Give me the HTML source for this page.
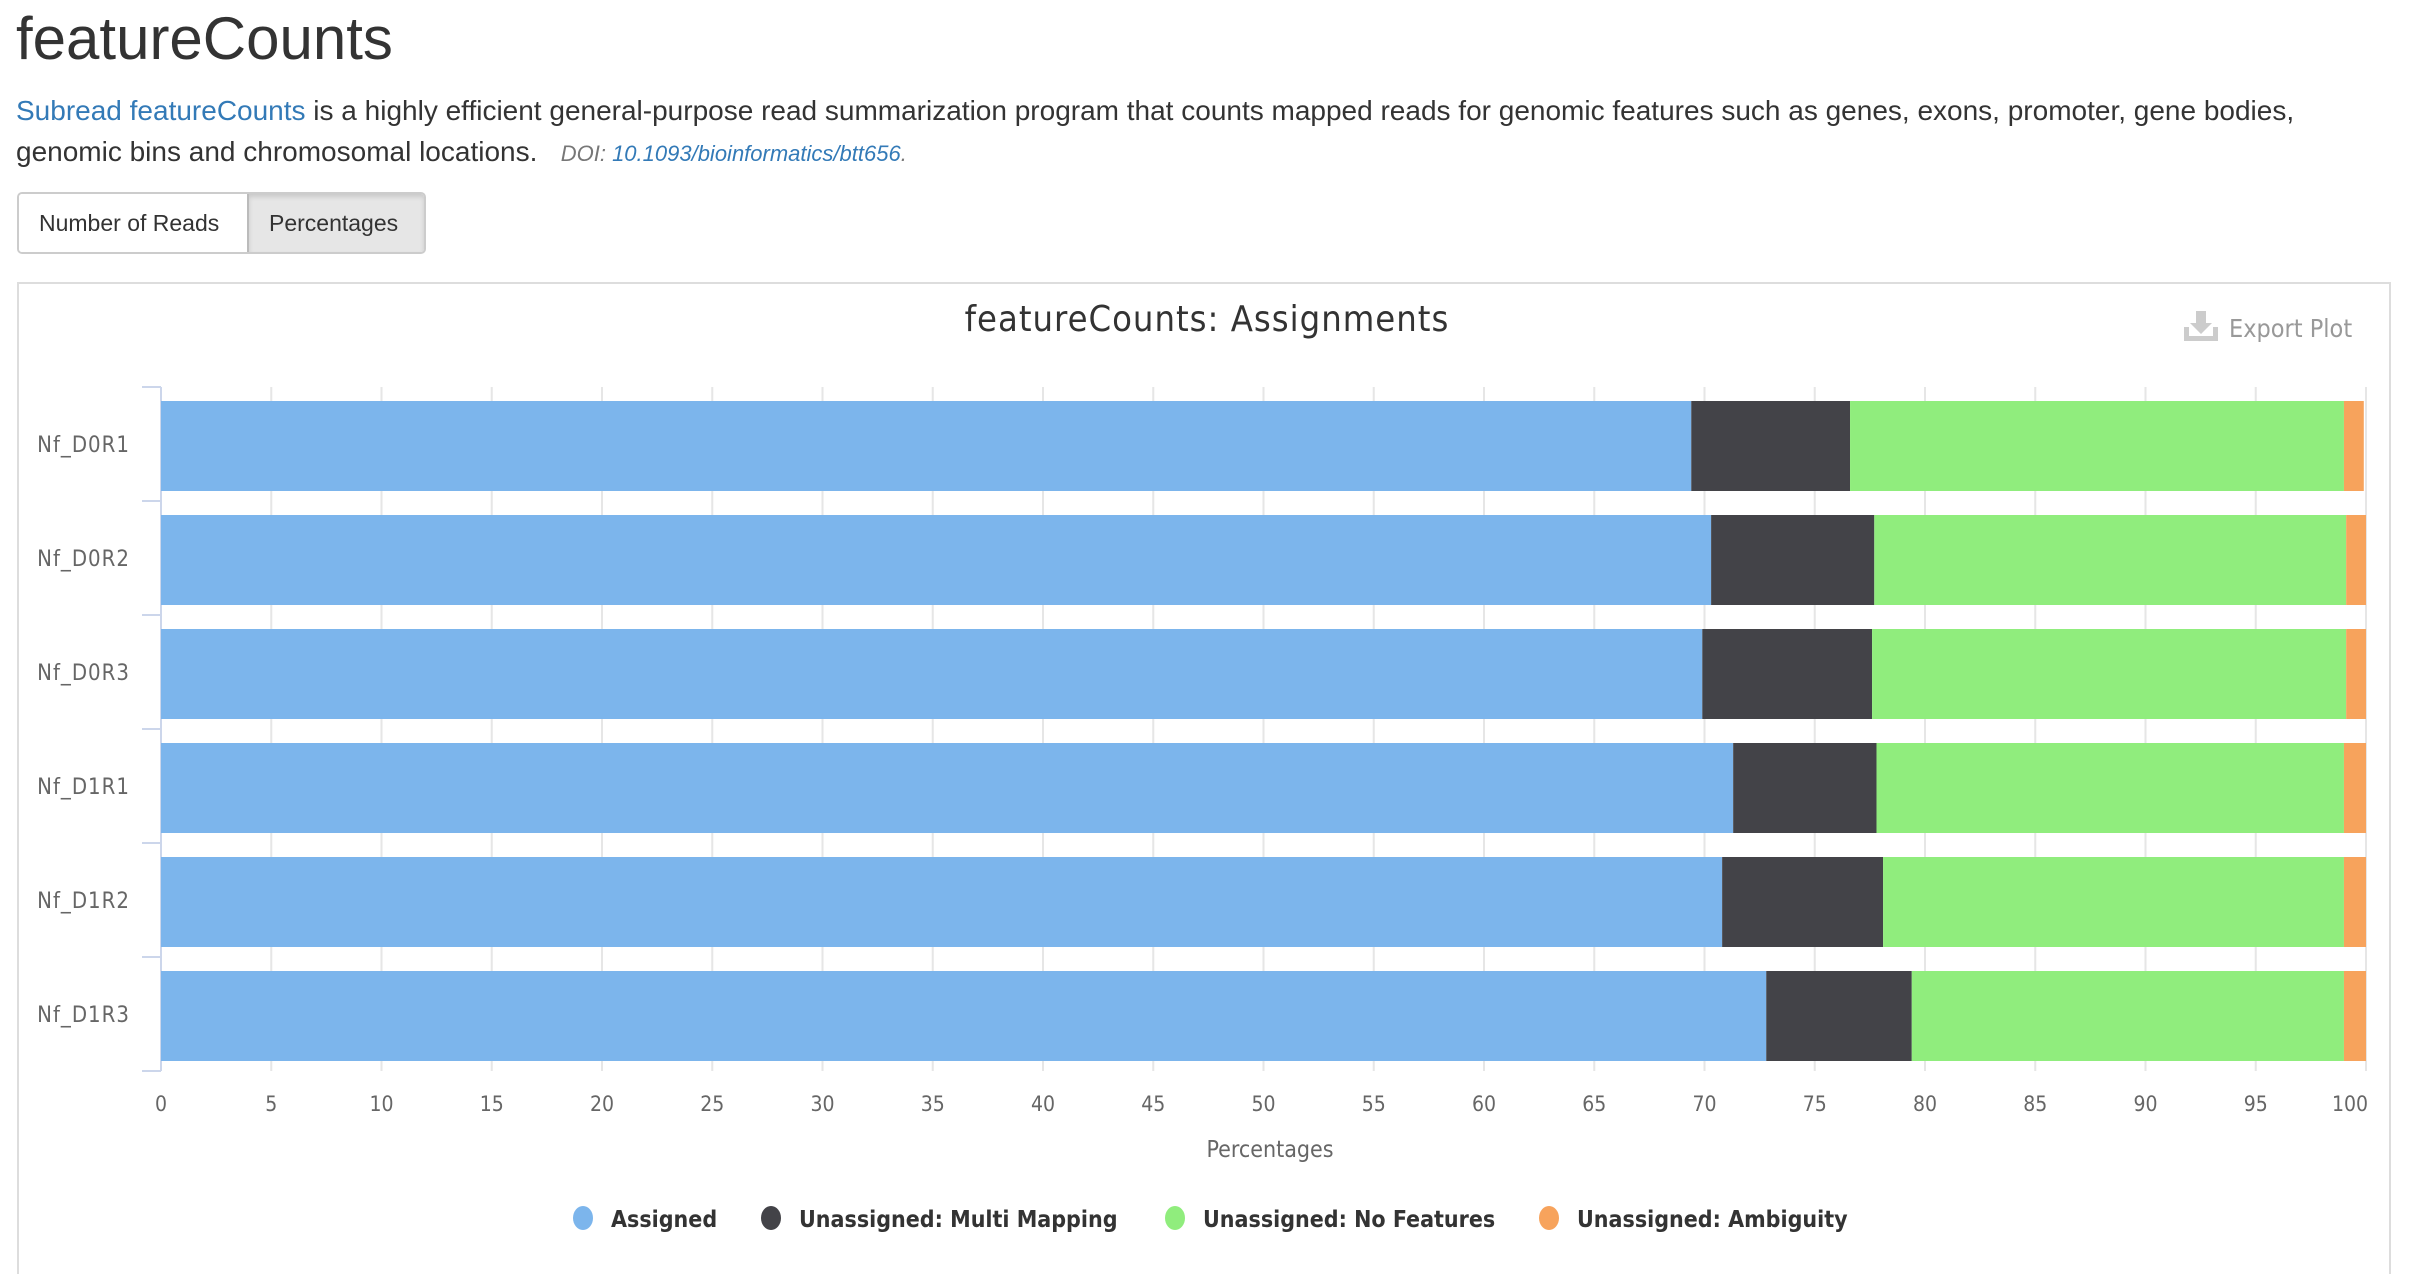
<!DOCTYPE html>
<html><head><meta charset="utf-8"><style>
body{margin:0;width:2409px;height:1252px;background:#fff;font-family:"Liberation Sans",sans-serif;overflow:hidden;position:relative}
.abs{position:absolute}
h1{position:absolute;left:16px;top:4px;margin:0;font-weight:400;font-size:60px;color:#333}
.desc{position:absolute;left:16px;top:90px;font-size:28px;line-height:41px;color:#333;width:2320px}
a{color:#337ab7;text-decoration:none}
.btns{position:absolute;left:17px;top:192px;height:58px;display:flex;border:2px solid #ccc;border-radius:5px;overflow:hidden}
.btn{font-size:23px;color:#333;display:flex;align-items:center;padding:0 20px;background:#fff}
.btn.active{background:#e6e6e6;box-shadow:inset 0 3px 5px rgba(0,0,0,.125);border-left:2px solid #bbb}
.panel{position:absolute;left:17px;top:282px;width:2370px;height:990px;border:2px solid #ddd;border-bottom:none}
</style></head><body>
<h1>featureCounts</h1>
<div class="desc"><a href="#">Subread featureCounts</a> is a highly efficient general-purpose read summarization program that counts mapped reads for genomic features such as genes, exons, promoter, gene bodies, genomic bins and chromosomal locations. &nbsp; <i style="font-size:22px;color:#777">DOI: <a href="#">10.1093/bioinformatics/btt656</a>.</i></div>
<div class="btns">
<div class="btn" style="width:188px">Number of Reads</div>
<div class="btn active" style="width:135px;padding:0 20px">Percentages</div>
</div>
<div class="panel"></div>
<svg class="abs" style="left:0;top:0" width="2409" height="1252" id="chart"
 font-family="'DejaVu Sans Condensed','Liberation Sans',sans-serif">
<text x="1207" y="331" text-anchor="middle" font-size="36" letter-spacing="1" fill="#333">featureCounts: Assignments</text>
<g>
<path d="M2184 327v14h34v-14h-5v9h-24v-9z M2196 311h10v12h6l-11 11l-11-11h6z" fill="#ccc"/>
<text x="2229" y="337" font-size="25" fill="#999">Export Plot</text>
</g>
<text x="1270" y="1157" text-anchor="middle" font-size="23" fill="#666">Percentages</text>
</svg>
<script>
const categories=["Nf_D0R1","Nf_D0R2","Nf_D0R3","Nf_D1R1","Nf_D1R2","Nf_D1R3"];
const seriesNames=["Assigned","Unassigned: Multi Mapping","Unassigned: No Features","Unassigned: Ambiguity"];
const seriesColors=["#7cb5ec","#434348","#90ed7d","#f7a35c"];
const assigned=[69.4,70.3,69.9,71.3,70.8,72.8];
const multiMapping=[7.2,7.4,7.7,6.5,7.3,6.6];
const noFeatures=[22.4,21.4,21.5,21.2,20.9,19.6];
const ambiguity=[0.9,0.9,0.9,1.0,1.0,1.0];
const xTicks=[0,5,10,15,20,25,30,35,40,45,50,55,60,65,70,75,80,85,90,95,100];
const NS="http://www.w3.org/2000/svg";
const svg=document.getElementById('chart');
const X0=161,X1=2366,Y0=387,ROW=114,BAR=90;
const xs=v=>X0+(X1-X0)*v/100;
const yr=i=>Y0+i*ROW;
function mk(t,a,p){const e=document.createElementNS(NS,t);for(const k in a)e.setAttribute(k,a[k]);(p||svg).appendChild(e);return e;}
const grid=mk('g',{});


xTicks.forEach((t,k)=>{if(t>0){mk('line',{x1:xs(t),x2:xs(t),y1:Y0,y2:Y0+ROW*categories.length,stroke:'#e6e6e6','stroke-width':2},grid);}
 const last=k===xTicks.length-1;
 const tx=mk('text',{x:last?xs(t)+2:xs(t),y:1111,'text-anchor':last?'end':'middle','font-size':21,fill:'#666'});tx.textContent=t;
 
 });
const ax=mk('line',{x1:X0,x2:X0,y1:Y0,y2:Y0+ROW*categories.length,stroke:'#ccd6eb','stroke-width':2});


for(let i=0;i<=categories.length;i++){mk('line',{x1:142,x2:X0,y1:yr(i),y2:yr(i),stroke:'#ccd6eb','stroke-width':2});}
const series=[assigned,multiMapping,noFeatures,ambiguity];
categories.forEach((c,i)=>{
 const lb=mk('text',{x:130,y:yr(i)+ROW/2+8,'text-anchor':'end','font-size':22,'letter-spacing':1,fill:'#666'});lb.textContent=c;
 
 
 let cum=0;
 series.forEach((s,j)=>{
  const r=mk('rect',{x:xs(cum),y:yr(i)+14,width:xs(cum+s[i])-xs(cum),height:BAR,fill:seriesColors[j]});
  
  
  cum+=s[i];});
});
const legX=[583,771,1175,1549];
seriesNames.forEach((n,j)=>{
 const g=mk('g',{});
 
 
 mk('ellipse',{cx:legX[j],cy:1218,rx:10,ry:12,fill:seriesColors[j]},g);
 const t=mk('text',{x:legX[j]+28,y:1227,'font-size':23,'font-weight':'bold',fill:'#333'},g);t.textContent=n;
});
</script>
</body></html>
